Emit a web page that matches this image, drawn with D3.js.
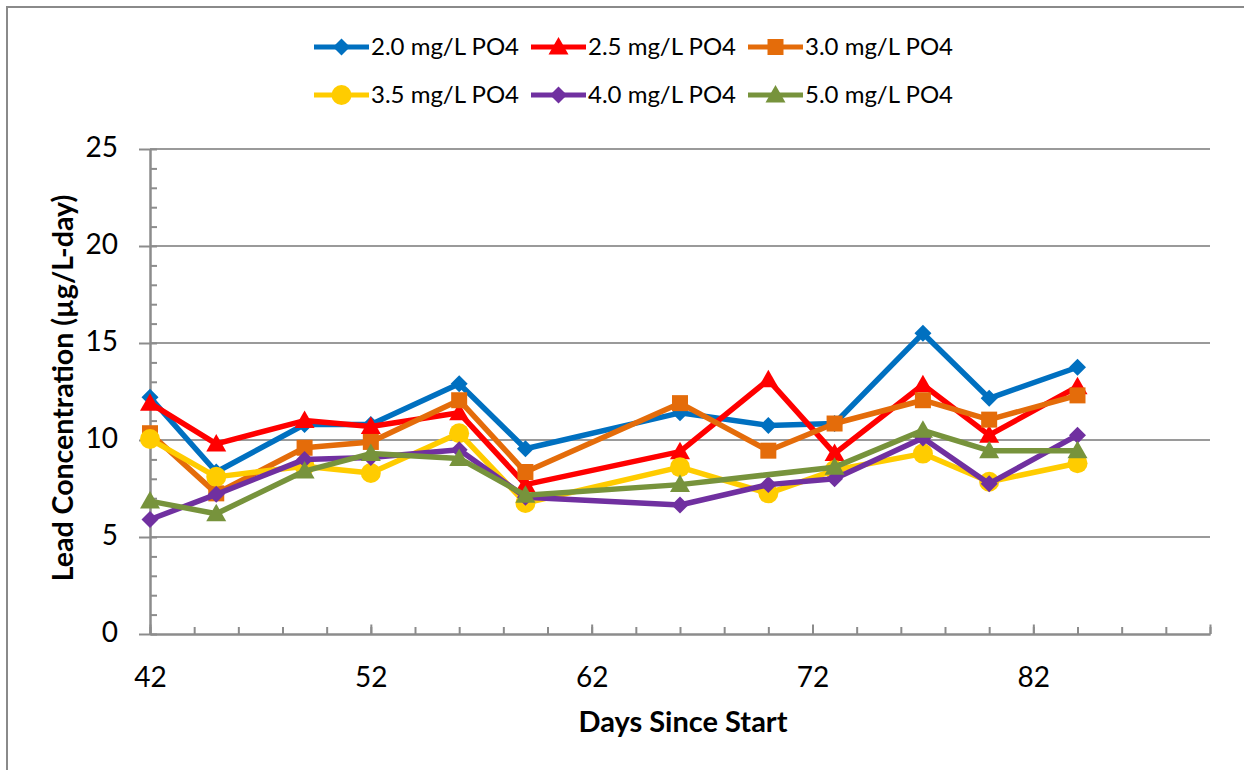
<!DOCTYPE html>
<html>
<head>
<meta charset="utf-8">
<script src="https://cdn.jsdelivr.net/npm/d3@7"></script>
<style>
  html, body { margin: 0; padding: 0; background: #fff; }
  svg { display: block; }
  text { font-family: Lato, "Open Sans", sans-serif; fill: #000; }
</style>
</head>
<body>
<svg id="chart" width="1244" height="770"></svg>
<script>
// ---- data ----
const days = [42, 45, 49, 52, 56, 59, 66, 70, 73, 77, 80, 84];
const seriesNames = ["2.0 mg/L PO4", "2.5 mg/L PO4", "3.0 mg/L PO4", "3.5 mg/L PO4", "4.0 mg/L PO4", "5.0 mg/L PO4"];
const po4_20 = [12.2, 8.35, 10.8, 10.8, 12.9, 9.55, 11.4, 10.75, 10.85, 15.5, 12.15, 13.75];
const po4_25 = [11.9, 9.8, 11.0, 10.7, 11.4, 7.7, 9.4, 13.1, 9.3, 12.85, 10.25, 12.75];
const po4_30 = [10.35, 7.25, 9.6, 9.9, 12.05, 8.35, 11.9, 9.45, 10.85, 12.05, 11.05, 12.3];
const po4_35 = [10.05, 8.1, 8.65, 8.3, 10.35, 6.75, 8.6, 7.25, 8.45, 9.3, 7.85, 8.8];
const po4_40 = [5.9, 7.2, 9.0, 9.1, 9.5, 7.05, 6.65, 7.7, 8.0, 10.1, 7.75, 10.25];
const po4_50 = [6.85, 6.2, 8.4, 9.3, 9.05, 7.15, 7.7, null, 8.6, 10.5, 9.45, 9.45];
const xTickLabels = [42, 52, 62, 72, 82];
const yTickLabels = [0, 5, 10, 15, 20, 25];

const seriesValues = [po4_20, po4_25, po4_30, po4_35, po4_40, po4_50];
const colors = ["#0070C0", "#FF0000", "#E46C0A", "#FFCC00", "#7030A0", "#77933C"];
const shapes = ["diamond", "triangle", "square", "circle", "diamond", "triangle"];

// ---- layout ----
const svg = d3.select("#chart");
const L = 150, R = 1210, T = 149, B = 634;
const x = d3.scaleLinear().domain([42, 90]).range([L, R]);
const y = d3.scaleLinear().domain([0, 25]).range([B, T]);
const axisColor = "#8c8c8c";

// outer border
svg.append("rect").attr("x", 7).attr("y", 7).attr("width", 1260).attr("height", 800)
  .attr("fill", "none").attr("stroke", "#8a8a8a").attr("stroke-width", 2);

// gridlines
svg.append("g").selectAll("line").data(yTickLabels.filter(d => d > 0)).join("line")
  .attr("x1", L).attr("x2", R).attr("y1", d => y(d)).attr("y2", d => y(d))
  .attr("stroke", "#9a9a9a").attr("stroke-width", 2);

function styleAxis(g) {
  g.selectAll("path").attr("stroke", axisColor).attr("stroke-width", 2);
  g.selectAll("line").attr("stroke", axisColor).attr("stroke-width", 2);
  g.selectAll("text").attr("font-family", "Lato, sans-serif").attr("font-size", 28).attr("fill", "#000");
}

// x minor ticks (every 2, inside)
const gxMinor = svg.append("g").attr("transform", `translate(0,${B})`)
  .call(d3.axisBottom(x).tickValues(d3.range(42, 91, 2)).tickSizeInner(-7).tickSizeOuter(0).tickFormat(""));
styleAxis(gxMinor);
// x major ticks + labels
const gx = svg.append("g").attr("transform", `translate(0,${B})`)
  .call(d3.axisBottom(x).tickValues(d3.range(42, 91, 10).concat([90])).tickSizeInner(-9.5).tickSizeOuter(0).tickPadding(33)
    .tickFormat(d => xTickLabels.includes(d) ? d : ""));
styleAxis(gx);

// y minor ticks (every 1, inside right)
const gyMinor = svg.append("g").attr("transform", `translate(${L},0)`)
  .call(d3.axisRight(y).tickValues(d3.range(0, 26, 1)).tickSizeInner(7).tickSizeOuter(0).tickFormat(""));
styleAxis(gyMinor);
// y major ticks + labels
const gy = svg.append("g").attr("transform", `translate(${L},0)`)
  .call(d3.axisLeft(y).tickValues(yTickLabels).tickSizeInner(11).tickSizeOuter(0).tickPadding(21));
styleAxis(gy);
gy.selectAll("text").attr("dy", "0.28em");

// axis titles
svg.append("text").attr("x", 683).attr("y", 732).attr("text-anchor", "middle")
  .attr("font-size", 29).attr("font-weight", "bold").text("Days Since Start");
svg.append("text").attr("transform", "translate(73,388) rotate(-90)").attr("text-anchor", "middle")
  .attr("font-size", 28.5).attr("font-weight", "bold").text("Lead Concentration (µg/L-day)");

// marker paths
function markerPath(shape) {
  if (shape === "diamond") return "M0,-8.5L8.5,0L0,8.5L-8.5,0Z";
  if (shape === "triangle") return "M0,-10L10,7.5L-10,7.5Z";
  if (shape === "square") return "M-8,-8H8V8H-8Z";
  return d3.symbol(d3.symbolCircle, Math.PI * 10 * 10)();
}

const line = d3.line().x(d => x(d.day)).y(d => y(d.v));

seriesValues.forEach((vals, i) => {
  const pts = days.map((d, j) => ({ day: d, v: vals[j] })).filter(p => p.v !== null);
  const g = svg.append("g");
  g.append("path").datum(pts).attr("d", line).attr("fill", "none")
    .attr("stroke", colors[i]).attr("stroke-width", 5.5).attr("stroke-linejoin", "round");
  g.selectAll("path.m").data(pts).join("path").attr("class", "m")
    .attr("transform", p => `translate(${x(p.day)},${y(p.v)})`)
    .attr("d", markerPath(shapes[i])).attr("fill", colors[i]);
});

// legend
const legendPos = [[314, 47], [531, 47], [748, 47], [314, 95], [531, 95], [748, 95]];
seriesNames.forEach((name, i) => {
  const [lx, ly] = legendPos[i];
  const g = svg.append("g").attr("transform", `translate(${lx},${ly})`);
  g.append("line").attr("x1", 0).attr("x2", 55).attr("y1", 0).attr("y2", 0)
    .attr("stroke", colors[i]).attr("stroke-width", 5);
  g.append("path").attr("transform", "translate(27.5,0)").attr("d", markerPath(shapes[i])).attr("fill", colors[i]);
  g.append("text").attr("x", 57).attr("y", 0).attr("dy", "0.35em").attr("font-size", 24).text(name);
});
</script>
</body>
</html>
